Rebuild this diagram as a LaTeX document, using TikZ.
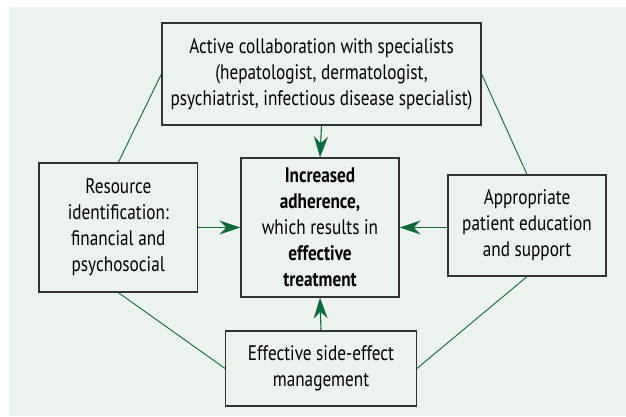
\documentclass[tikz,border=0pt]{standalone}
\usepackage{fontspec}
\setmainfont{PT Sans}[FakeStretch=0.82]
\usetikzlibrary{arrows.meta}

\definecolor{panelgray}{HTML}{ECF2EE}
\definecolor{linkgreen}{HTML}{0B6B3A}
\definecolor{boxline}{HTML}{333333}

\tikzset{
	factor/.style={draw=boxline, line width=1.2pt, fill=panelgray, inner sep=0pt, align=center,
		font=\fontsize{21}{26}\selectfont},
	feed/.style={draw=linkgreen, line width=1.1pt, -{Stealth[length=21pt, width=14pt, inset=7pt]}},
	link/.style={draw=linkgreen, line width=0.9pt}
}

\begin{document}
\begin{tikzpicture}[x=1pt, y=-1pt]
		\useasboundingbox (0, 0) rectangle (626, 416);
		\fill[panelgray] (9, 7) rectangle (626, 416);
		
		\node[factor, minimum width=319pt, minimum height=102pt] (collab) at (321.5, 74)
			{Active collaboration with specialists\\(hepatologist, dermatologist,\\psychiatrist, infectious disease specialist)};
		\node[factor, minimum width=158.5pt, minimum height=129pt] (resource) at (118.3, 227.5)
			{Resource\\identification:\\financial and\\psychosocial};
		\node[factor, minimum width=158pt, minimum height=139pt] (adhere) at (320, 227.5)
			{\textbf{Increased}\\\textbf{adherence,}\\which results in\\\textbf{effective}\\\textbf{treatment}};
		\node[factor, minimum width=158pt, minimum height=101pt] (educ) at (527, 225.5)
			{Appropriate\\patient education\\and support};
		\node[factor, minimum width=190.5pt, minimum height=75pt] (sidefx) at (321, 368.5)
			{Effective side-effect\\management};
		
		\draw[link] (collab.west) -- (resource.north);
		\draw[link] (collab.east) -- (educ.north);
		\draw[link] (resource.south) -- (sidefx.west);
		\draw[link] (educ.south) -- (sidefx.east);
		
		\draw[feed] (collab.south) -- (adhere.north);
		\draw[feed] (resource.east) -- (adhere.west);
		\draw[feed] (educ.west |- adhere.west) -- (adhere.east);
		\draw[feed] (sidefx.north) -- (adhere.south);
	\end{tikzpicture}
\end{document}
